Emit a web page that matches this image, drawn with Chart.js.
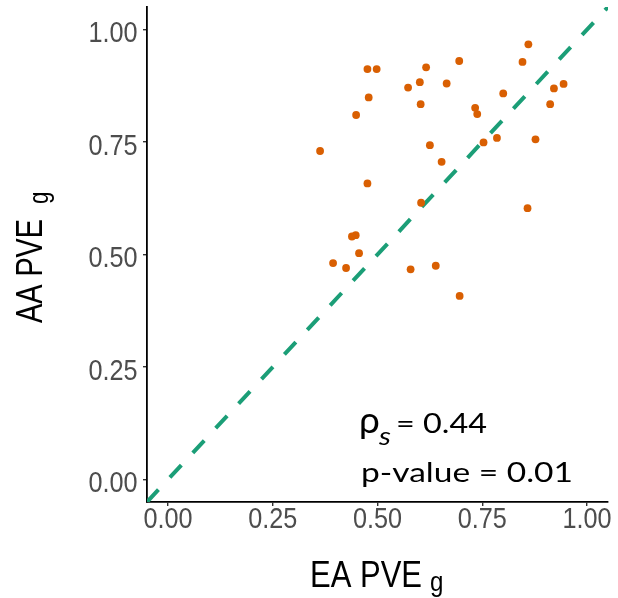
<!DOCTYPE html>
<html>
<head>
<meta charset="utf-8">
<script src="https://cdn.jsdelivr.net/npm/chart.js@4.4.1/dist/chart.umd.min.js"></script>
<style>
  html, body { margin: 0; padding: 0; background: #ffffff; }
  #wrap { width: 618px; height: 598px; }
</style>
</head>
<body>
<div id="wrap"><canvas id="c" width="618" height="598"></canvas></div>
<script>
// Per-gene heritability estimates in the two ancestry groups
const eaPVE = [0.860, 0.846, 0.695, 0.616, 0.476, 0.498, 0.601, 0.573, 0.665, 0.944,
               0.921, 0.800, 0.479, 0.603, 0.912, 0.733, 0.738, 0.449, 0.785, 0.753,
               0.877, 0.363, 0.625, 0.653, 0.476, 0.604, 0.858, 0.448, 0.439, 0.456,
               0.394, 0.425, 0.579, 0.639, 0.696];
const aaPVE = [0.967, 0.928, 0.930, 0.916, 0.912, 0.912, 0.883, 0.871, 0.880, 0.879,
               0.869, 0.858, 0.849, 0.834, 0.834, 0.826, 0.812, 0.810, 0.759, 0.749,
               0.756, 0.730, 0.743, 0.706, 0.658, 0.615, 0.603, 0.543, 0.540, 0.503,
               0.481, 0.470, 0.467, 0.475, 0.408];

// Shared axis range, tick positions and tick labels
const axisRange = [-0.05, 1.05];
const axisTicks = [0, 0.25, 0.5, 0.75, 1];
const tickLabels = ['0.00', '0.25', '0.50', '0.75', '1.00'];

// Texts
const xTitle = ['EA PVE', 'g'];
const yTitle = ['AA PVE', 'g'];
const rhoLabel = ['\u03C1', 's', '= 0.44'];
const pLabel = 'p-value = 0.01';

const ORANGE = '#D95F02';
const GREEN = '#1B9E77';
const SANS = '"Liberation Sans", Arial, sans-serif';
const TICK_SX = 0.87;   // narrow set for the axis text

function drawScaled(ctx, str, x, y, font, width, sxFixed) {
  ctx.font = font;
  const w = ctx.measureText(str).width;
  const sx = sxFixed || (width ? width / w : 1);
  ctx.save();
  ctx.translate(x, y);
  ctx.scale(sx, 1);
  ctx.fillText(str, 0, 0);
  ctx.restore();
  return sx;
}

// Tick labels, placed with the scales' own pixel mapping
const tickText = {
  id: 'tickText',
  afterDraw(chart) {
    const ctx = chart.ctx;
    const xs = chart.scales.x, ys = chart.scales.y;
    ctx.save();
    ctx.fillStyle = '#4D4D4D';
    ctx.font = '29px ' + SANS;
    ctx.textBaseline = 'alphabetic';
    xs.ticks.forEach((t, i) => {
      const px = xs.getPixelForValue(t.value);
      const w = ctx.measureText(tickLabels[i]).width * TICK_SX;
      drawScaled(ctx, tickLabels[i], px - w / 2, xs.top + 25.5, ctx.font, 0, TICK_SX);
    });
    ys.ticks.forEach((t, i) => {
      const py = ys.getPixelForValue(t.value);
      const w = ctx.measureText(tickLabels[i]).width * TICK_SX;
      drawScaled(ctx, tickLabels[i], ys.right - 9.5 - w, py + 12.5, ctx.font, 0, TICK_SX);
    });
    ctx.restore();
  }
};

// Axis titles and the correlation annotation
const textLayer = {
  id: 'textLayer',
  afterDraw(chart) {
    const ctx = chart.ctx;
    ctx.save();
    ctx.fillStyle = '#000000';
    ctx.textBaseline = 'alphabetic';
    ctx.textAlign = 'left';

    const sxX = drawScaled(ctx, xTitle[0], 310, 586.7, '36px ' + SANS, 112);
    drawScaled(ctx, xTitle[1], 430, 591, '28px ' + SANS, 0, sxX);

    ctx.save();
    ctx.translate(42, 323);
    ctx.rotate(-Math.PI / 2);
    const sxY = drawScaled(ctx, yTitle[0], 0, 0, '36px ' + SANS, 104);
    drawScaled(ctx, yTitle[1], 119, 6, '28px ' + SANS, 0, sxY);
    ctx.restore();

    const ann = 'Lato, "Open Sans", sans-serif';
    drawScaled(ctx, rhoLabel[0], 359, 433, '37px ' + ann, 0);
    drawScaled(ctx, rhoLabel[1], 379, 445, 'italic 26px ' + ann, 0, 1.15);
    drawScaled(ctx, rhoLabel[2], 396, 433, '27px ' + ann, 91);
    drawScaled(ctx, pLabel, 361, 481.7, '27px ' + ann, 212);
    ctx.restore();
  }
};

const axisCommon = {
  type: 'linear',
  min: axisRange[0],
  max: axisRange[1],
  afterBuildTicks: (s) => { s.ticks = axisTicks.map(v => ({ value: v })); },
  border: { display: true, color: '#000000', width: 1.8 },
  grid: { drawOnChartArea: false, drawTicks: true, tickLength: 4, color: '#333333', lineWidth: 1.4 },
  ticks: { display: false, autoSkip: false }
};

new Chart(document.getElementById('c'), {
  type: 'scatter',
  data: {
    datasets: [
      {
        type: 'scatter',
        data: eaPVE.map((x, i) => ({ x: x, y: aaPVE[i] })),
        backgroundColor: ORANGE,
        borderColor: ORANGE,
        borderWidth: 0,
        pointRadius: 3.9,
        order: 1
      },
      {
        type: 'line',
        data: axisRange.map(v => ({ x: v, y: v })),
        borderColor: GREEN,
        borderWidth: 4,
        borderDash: [16.8, 16.8],
        pointRadius: 0,
        fill: false,
        order: 2
      }
    ]
  },
  options: {
    responsive: false,
    animation: false,
    devicePixelRatio: 1,
    layout: { padding: { top: 7, right: 10, left: 0, bottom: 0 } },
    plugins: { legend: { display: false }, tooltip: { enabled: false } },
    scales: {
      x: Object.assign({}, axisCommon, {
        afterFit: (s) => { s.height = 96; s.paddingLeft = 0; s.paddingRight = 0; }
      }),
      y: Object.assign({}, axisCommon, {
        afterFit: (s) => { s.width = 147; s.paddingTop = 0; s.paddingBottom = 0; }
      })
    }
  },
  plugins: [tickText, textLayer]
});
</script>
</body>
</html>
